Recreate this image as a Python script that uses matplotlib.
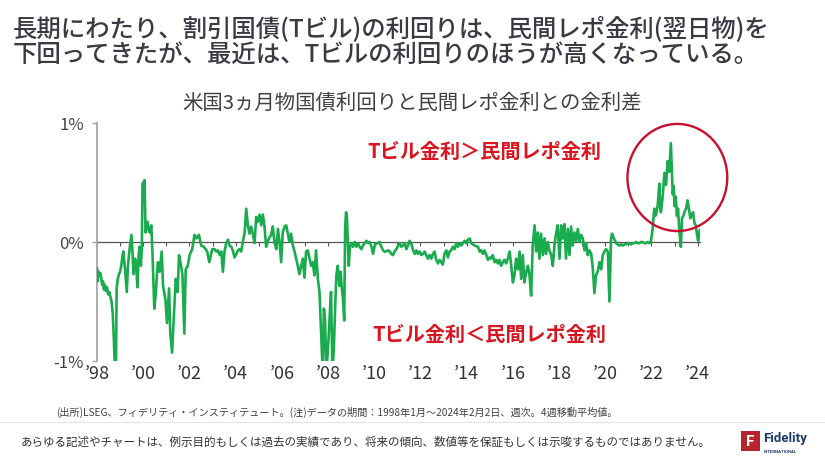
import matplotlib
matplotlib.use("Agg")
import matplotlib.pyplot as plt
from matplotlib.patches import Ellipse, Rectangle
from matplotlib.lines import Line2D

plt.rcParams['font.family'] = ['Noto Sans CJK JP', 'DejaVu Sans']

# ---------------- data (decimal year, spread in %) ----------------
dates = [
    1998.00, 1998.03, 1998.06, 1998.10, 1998.14, 1998.18, 1998.22, 1998.26, 1998.30, 1998.34,
    1998.38, 1998.43, 1998.48, 1998.53, 1998.58, 1998.63, 1998.68, 1998.73, 1998.78, 1998.82,
    1998.85, 1998.90, 1998.95, 1999.00, 1999.05, 1999.10, 1999.14, 1999.20, 1999.25, 1999.29,
    1999.34, 1999.41, 1999.49, 1999.54, 1999.58, 1999.65, 1999.70, 1999.75, 1999.80, 1999.84,
    1999.90, 1999.94, 1999.97, 2000.01, 2000.06, 2000.10, 2000.15, 2000.19, 2000.24, 2000.28,
    2000.35, 2000.41, 2000.48, 2000.55, 2000.60, 2000.64, 2000.71, 2000.80, 2000.86, 2000.96,
    2001.03, 2001.12, 2001.17, 2001.25, 2001.32, 2001.41, 2001.49, 2001.55, 2001.64, 2001.70,
    2001.78, 2001.84, 2001.93, 2002.01, 2002.12, 2002.22, 2002.30, 2002.41, 2002.51, 2002.62,
    2002.70, 2002.77, 2002.86, 2002.99,
    2003.09, 2003.16, 2003.23, 2003.31, 2003.38, 2003.45, 2003.52, 2003.59, 2003.67, 2003.74,
    2003.81, 2003.88, 2003.95, 2004.03, 2004.10, 2004.17, 2004.24, 2004.31, 2004.39, 2004.46,
    2004.53, 2004.60, 2004.67, 2004.75, 2004.82, 2004.89, 2004.96, 2005.04, 2005.11, 2005.18,
    2005.25, 2005.32, 2005.40, 2005.47, 2005.54, 2005.61, 2005.68, 2005.76, 2005.83, 2005.90,
    2005.97, 2006.04, 2006.12, 2006.19, 2006.26, 2006.33, 2006.40, 2006.48, 2006.55, 2006.62,
    2006.69, 2006.76, 2006.84, 2006.91, 2006.98, 2007.05, 2007.12, 2007.20, 2007.27, 2007.34,
    2007.41, 2007.48, 2007.56, 2007.63, 2007.70, 2007.77, 2007.82, 2007.87, 2007.93, 2008.02,
    2008.08, 2008.13, 2008.19, 2008.25, 2008.31, 2008.36, 2008.42, 2008.49, 2008.55, 2008.60,
    2008.65, 2008.70, 2008.74, 2008.78, 2008.82, 2008.86, 2008.90, 2008.95,
    2009.04, 2009.08, 2009.15, 2009.23, 2009.30, 2009.37, 2009.44, 2009.51, 2009.59, 2009.66,
    2009.73, 2009.80, 2009.88, 2009.95, 2010.02, 2010.09, 2010.16, 2010.23, 2010.31, 2010.38,
    2010.45, 2010.52, 2010.60, 2010.67, 2010.74, 2010.81, 2010.88, 2010.96, 2011.03, 2011.10,
    2011.17, 2011.24, 2011.32, 2011.39, 2011.46, 2011.53, 2011.60, 2011.68, 2011.75, 2011.82,
    2011.89, 2011.96, 2012.04, 2012.11, 2012.18, 2012.25, 2012.32, 2012.40, 2012.47, 2012.54,
    2012.61, 2012.68, 2012.76, 2012.83, 2012.90, 2012.97, 2013.04, 2013.12, 2013.19, 2013.26,
    2013.33, 2013.40, 2013.48, 2013.55, 2013.62, 2013.69, 2013.77, 2013.84, 2013.91, 2013.98,
    2014.05, 2014.13, 2014.20, 2014.34, 2014.49, 2014.56, 2014.63, 2014.70, 2014.77, 2014.85,
    2014.92, 2014.99, 2015.06, 2015.13, 2015.21, 2015.28, 2015.35, 2015.42, 2015.49, 2015.57,
    2015.64, 2015.71, 2015.78, 2015.86, 2015.93, 2016.00, 2016.07, 2016.14, 2016.22, 2016.29,
    2016.36, 2016.43, 2016.50, 2016.58, 2016.65, 2016.72, 2016.79, 2016.86, 2016.94, 2017.01,
    2017.08, 2017.15, 2017.22, 2017.30, 2017.37, 2017.44, 2017.51, 2017.58, 2017.66, 2017.73,
    2017.80, 2017.87, 2017.94, 2018.02, 2018.09, 2018.16, 2018.23, 2018.30, 2018.38, 2018.45,
    2018.52, 2018.59, 2018.66, 2018.74, 2018.81, 2018.88, 2018.95, 2019.03, 2019.10, 2019.17,
    2019.24, 2019.31, 2019.39, 2019.46, 2019.53, 2019.60, 2019.67, 2019.75, 2019.82, 2019.89,
    2019.96, 2020.03, 2020.11, 2020.18, 2020.25, 2020.29, 2020.35, 2020.42, 2020.47, 2020.54,
    2020.61, 2020.68, 2020.76, 2020.83, 2020.90, 2020.97, 2021.04, 2021.11, 2021.19, 2021.26,
    2021.33, 2021.40, 2021.48, 2021.55, 2021.62, 2021.69, 2021.76, 2021.84, 2021.91, 2021.98,
    2022.05, 2022.12, 2022.16, 2022.20, 2022.27, 2022.34, 2022.38, 2022.41, 2022.48, 2022.56,
    2022.63, 2022.70, 2022.77, 2022.84, 2022.88, 2022.92, 2022.96, 2023.00, 2023.05, 2023.10,
    2023.15, 2023.20, 2023.27, 2023.32, 2023.38, 2023.44, 2023.50, 2023.56, 2023.62, 2023.68,
    2023.74, 2023.80, 2023.86, 2023.92, 2023.97, 2024.02, 2024.06, 2024.09,
]

spread = [
    -0.22, -0.33, -0.25, -0.28, -0.26, -0.30, -0.36, -0.33, -0.40, -0.36,
    -0.41, -0.38, -0.44, -0.42, -0.46, -0.50, -0.60, -0.82, -1.10, -1.10,
    -0.39, -0.31, -0.27, -0.25, -0.20, -0.12, -0.08, -0.20, -0.32, -0.42,
    -0.20, -0.06, 0.06, -0.10, -0.27, -0.14, -0.22, -0.38, -0.12, -0.04,
    -0.20, -0.05, 0.49, 0.50, 0.52, 0.08, 0.13, 0.17, 0.10, 0.08,
    0.14, -0.14, -0.56, -0.42, -0.25, -0.17, -0.25, -0.08, -0.37, -0.48,
    -0.68, -0.39, -0.76, -0.93, -0.65, -0.31, -0.42, -0.11, -0.20, -0.28,
    -0.77, -0.23, -0.20, -0.11, -0.06, 0.06, 0.03, 0.06, -0.03, -0.04,
    -0.06, -0.08, -0.17, -0.06,
    -0.06, -0.08, -0.07, -0.11, -0.08, -0.25, -0.08, -0.01, 0.02, -0.03,
    -0.04, -0.07, -0.13, -0.10, -0.07, -0.06, -0.08, 0.00, 0.08, 0.28,
    0.14, 0.07, 0.13, 0.06, -0.01, 0.21, 0.17, 0.23, 0.14, 0.23,
    0.13, -0.04, 0.01, 0.04, 0.06, 0.13, 0.00, -0.06, 0.11, 0.00,
    -0.17, 0.08, 0.13, 0.14, 0.07, 0.00, 0.07, -0.03, -0.08, -0.14,
    -0.20, -0.27, -0.20, -0.14, -0.30, -0.08, -0.07, -0.14, -0.20, -0.17,
    -0.28, -0.07, -0.31, -0.42, -0.76, -1.10, -0.56, -0.65, -1.10, -0.82,
    -0.59, -0.42, -1.10, -0.90, -0.54, -0.28, -0.20, -0.37, -0.25, -0.40,
    -0.48, -0.66, 0.12, 0.25, 0.20, -0.03, -0.20, -0.03,
    -0.01, -0.04, 0.00, -0.04, -0.01, -0.04, -0.06, -0.03, -0.01, 0.01,
    -0.01, 0.00, -0.04, -0.10, -0.03, -0.01, -0.01, 0.00, -0.04, -0.07,
    -0.08, -0.08, -0.07, -0.08, -0.10, -0.11, -0.08, -0.06, -0.03, -0.01,
    -0.04, -0.03, -0.01, -0.06, -0.03, 0.01, -0.01, -0.07, -0.10, -0.07,
    -0.10, -0.08, -0.11, -0.10, -0.08, -0.11, -0.14, -0.11, -0.14, -0.10,
    -0.08, -0.15, -0.18, -0.15, -0.17, -0.19, -0.10, -0.07, -0.13, -0.08,
    -0.07, -0.04, -0.06, -0.01, -0.04, -0.01, -0.03, -0.01, 0.01, -0.01,
    0.02, 0.03, -0.01, -0.03, -0.04, -0.08, -0.07, -0.10, -0.07, -0.11,
    -0.15, -0.13, -0.14, -0.11, -0.17, -0.15, -0.18, -0.15, -0.20, -0.17,
    -0.15, -0.18, -0.14, -0.08, -0.20, -0.34, -0.28, -0.14, -0.23, -0.08,
    -0.31, -0.11, -0.34, -0.25, -0.20, -0.28, -0.45, -0.03, 0.14, -0.08,
    0.08, -0.14, 0.07, -0.11, 0.03, -0.10, 0.00, -0.07, -0.11, -0.20,
    -0.03, 0.07, 0.14, -0.14, 0.14, 0.03, 0.15, -0.14, 0.11, -0.11,
    0.13, -0.03, 0.08, 0.01, 0.11, 0.00, 0.06, 0.03, -0.07, -0.01,
    -0.11, -0.07, -0.10, -0.22, -0.43, -0.28, -0.25, -0.17, -0.23, -0.11,
    -0.08, -0.06, -0.08, -0.50, 0.03, 0.07, 0.04, 0.01, -0.01, -0.02,
    -0.03, -0.02, -0.03, -0.02, -0.02, -0.01, -0.01, -0.02, -0.01, -0.01,
    0.00, -0.01, -0.01, 0.00, 0.00, -0.01, -0.01, 0.00, -0.01, 0.01,
    0.11, 0.28, 0.22, 0.23, 0.31, 0.49, 0.28, 0.25, 0.37, 0.58,
    0.48, 0.68, 0.59, 0.83, 0.62, 0.40, 0.47, 0.30, 0.38, 0.22,
    0.28, 0.11, -0.04, 0.20, 0.22, 0.26, 0.28, 0.35, 0.28, 0.20,
    0.23, 0.25, 0.16, 0.14, 0.06, 0.01, 0.07, 0.10,
]

year_ticks = list(range(1998, 2025))
label_years = list(range(1998, 2025, 2))
label_text = ["\u2019%02d" % (y % 100) for y in label_years]
y_ticks = [-1, 0, 1]
y_labels = ["-1%", "0%", "1%"]

title1 = "長期にわたり、割引国債(Tビル)の利回りは、民間レポ金利(翌日物)を"
title2 = "下回ってきたが、最近は、Tビルの利回りのほうが高くなっている。"
subtitle = "米国3ヵ月物国債利回りと民間レポ金利との金利差"
note_up = "Tビル金利＞民間レポ金利"
note_dn = "Tビル金利＜民間レポ金利"
source = "(出所)LSEG、フィデリティ・インスティテュート。(注)データの期間：1998年1月～2024年2月2日、週次。4週移動平均値。"
disclaimer = "あらゆる記述やチャートは、例示目的もしくは過去の実績であり、将来の傾向、数値等を保証もしくは示唆するものではありません。"

# ---------------- figure ----------------
W, H = 825, 464
fig = plt.figure(figsize=(W / 100, H / 100), dpi=100)
fig.patch.set_facecolor('white')

def fx(px):
    return px / W

def fy(py):
    return 1 - py / H

ax = fig.add_axes([fx(97), fy(362), fx(700) - fx(97), fy(124) - fy(362)])
ax.set_xlim(1998, 2024.1)
ax.set_ylim(-1, 1)

ax.plot(dates, spread, color='#1aab4f', lw=1.9, solid_joinstyle='round', zorder=3)

for s in ['top', 'right']:
    ax.spines[s].set_visible(False)
ax.spines['left'].set_color('#a6a6a6')
ax.spines['left'].set_linewidth(1.3)
ax.spines['bottom'].set_position(('data', 0))
ax.spines['bottom'].set_color('#555555')
ax.spines['bottom'].set_linewidth(0.9)
ax.spines['bottom'].set_zorder(2)

ax.set_xticks(year_ticks)
ax.tick_params(axis='x', direction='out', length=3, width=0.8, color='#555555',
               labelbottom=False)
ax.set_yticks(y_ticks)
ax.set_yticklabels(y_labels)
ax.tick_params(axis='y', length=3.6, width=1.0, color='#a6a6a6', pad=6,
               labelsize=12, labelcolor='#444444')

sec = ax.secondary_xaxis('bottom')
sec.set_xticks(label_years)
sec.set_xticklabels(label_text)
sec.tick_params(length=0, pad=2, labelsize=13, labelcolor='#333333')
sec.spines['bottom'].set_visible(False)

ax.text(2014.75, 0.77, note_up, color='#d9151f', fontsize=14.5, fontweight='bold',
        ha='center', va='center')
ax.text(2014.99, -0.765, note_dn, color='#d9151f', fontsize=14.5, fontweight='bold',
        ha='center', va='center')

ax.add_patch(Ellipse((2023.12, 0.542), width=4.32, height=0.90, fill=False,
                     ec='#c8102e', lw=1.7, clip_on=False, zorder=4))

# ---------------- titles ----------------
fig.text(fx(13), fy(29), title1, fontsize=17.6, color='#3a3a45', ha='left', va='center',
         fontweight='medium')
fig.text(fx(13), fy(55), title2, fontsize=17.6, color='#3a3a45', ha='left', va='center',
         fontweight='medium')
fig.text(fx(412), fy(103.5), subtitle, fontsize=14.7, color='#404040', ha='center',
         va='center')

# ---------------- footer ----------------
fig.text(fx(56), fy(412), source, fontsize=7.3, color='#404040', ha='left', va='center')
fig.add_artist(Line2D([0, 1], [fy(423), fy(423)], transform=fig.transFigure,
                      color='#e3e3e3', lw=0.8))
fig.text(fx(21), fy(442), disclaimer, fontsize=8.3, color='#333333', ha='left',
         va='center')

fig.add_artist(Rectangle((fx(741), fy(452)), fx(19), fy(432) - fy(452),
                         transform=fig.transFigure, facecolor='#b5252b',
                         edgecolor='none'))
fig.text(fx(750.5), fy(442), "F", fontsize=11, color='white', fontweight='bold',
         ha='center', va='center', family=['Roboto', 'DejaVu Sans'])
fig.text(fx(763), fy(439), "Fidelity", fontsize=9.5, color='#1e3a6e', fontweight='bold',
         ha='left', va='center', family=['Roboto', 'DejaVu Sans'])
fig.text(fx(764), fy(452), "INTERNATIONAL", fontsize=3.2, color='#1e3a6e',
         fontweight='bold', ha='left', va='center', family=['Roboto', 'DejaVu Sans'])

fig.savefig('out.png', dpi=100, facecolor='white')
